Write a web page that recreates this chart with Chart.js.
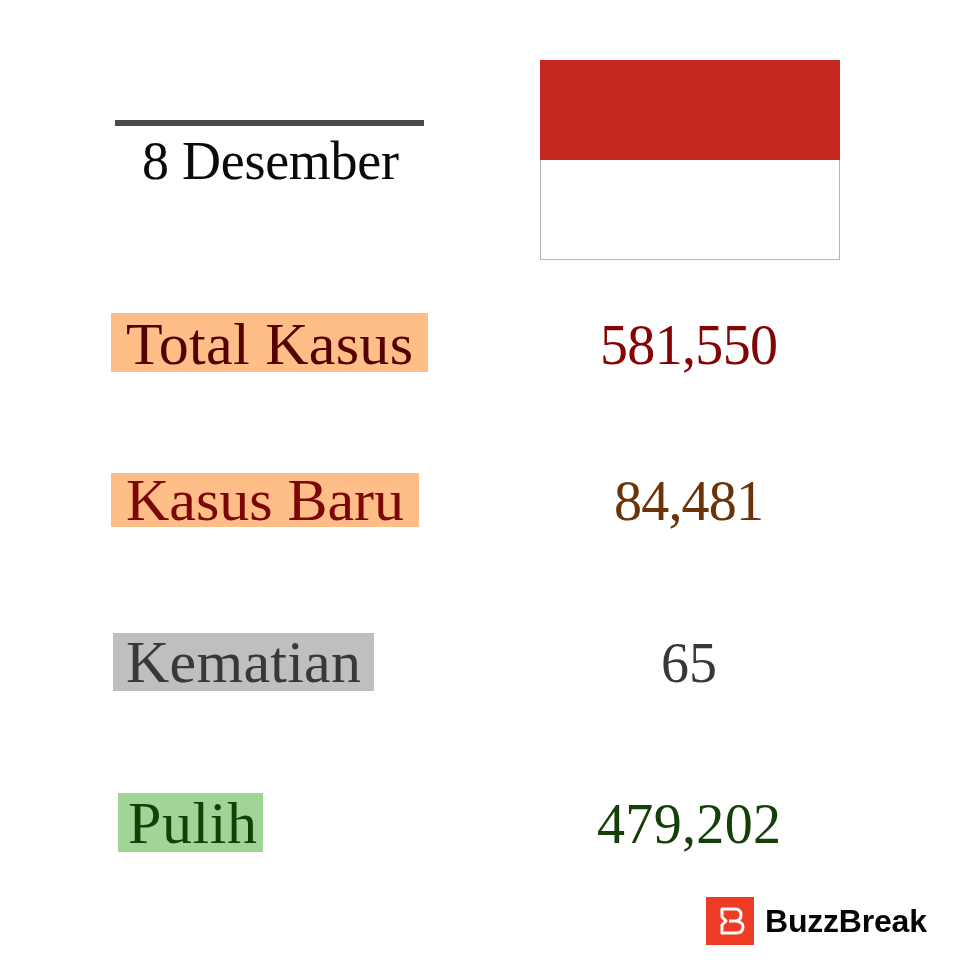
<!DOCTYPE html>
<html>
<head>
<meta charset="utf-8">
<style>html,body{margin:0;padding:0;background:#fff}canvas{display:block}</style>
<script src="https://cdn.jsdelivr.net/npm/chart.js@4"></script>
</head>
<body>
<canvas id="c" width="960" height="960"></canvas>
<script>
const dateLabel = '8 Desember';
const brandName = 'BuzzBreak';
const categories = ['Total Kasus', 'Kasus Baru', 'Kematian', 'Pulih'];
const caseValues = [581550, 84481, 65, 479202];

// styling only
const labelColors = ['#560000', '#7a0606', '#383838', '#143f06'];
const valueColors = ['#860303', '#6a330a', '#383838', '#143f06'];
const highlightColors = ['#ffbd87', '#ffbd87', '#bfbfbf', '#a1d595'];
const labelLeft = [126, 126, 126, 128];
const labelWidth = [287, 278, 235, 129];
const valueWidth = [178, 150, 56, 184];
const highlightBox = [[111,428,313,372],[111,419,473,527],[113,374,633,691],[118,263,793,852]];
const baselineNudge = [21, 17, 19, 20];
const SERIF = '"Liberation Serif", serif';

function fitText(ctx, text, x, y, width, font, color, align) {
  ctx.save();
  ctx.font = font;
  ctx.fillStyle = color;
  ctx.textAlign = 'left';
  ctx.textBaseline = 'alphabetic';
  ctx.letterSpacing = '0px';
  const w = ctx.measureText(text).width;
  const n = text.length;
  const sp = (width - w) / Math.max(1, n - 1);
  ctx.letterSpacing = sp + 'px';
  const left = align === 'center' ? x - width / 2 : x;
  ctx.fillText(text, left, y);
  ctx.restore();
}

const infographic = {
  id: 'infographic',
  afterDatasetsDraw(chart) {
    const ctx = chart.ctx;
    const y = chart.scales.y;
    ctx.save();
    // header rule + date
    ctx.fillStyle = '#4a4a4a';
    ctx.fillRect(115, 120, 309, 6);
    fitText(ctx, dateLabel, 142, 179, 257, '54px ' + SERIF, '#0a0a0a', 'left');
    // flag
    ctx.fillStyle = '#ffffff';
    ctx.fillRect(540, 60, 300, 200);
    ctx.strokeStyle = '#b5b5b5';
    ctx.lineWidth = 1;
    ctx.strokeRect(540.5, 60.5, 299, 199);
    ctx.fillStyle = '#c4281e';
    ctx.fillRect(540, 60, 300, 100);
    // rows
    categories.forEach((name, i) => {
      const py = y.getPixelForValue(i);
      const b = highlightBox[i];
      ctx.fillStyle = highlightColors[i];
      ctx.fillRect(b[0], b[2], b[1] - b[0], b[3] - b[2]);
      fitText(ctx, name, labelLeft[i], py + baselineNudge[i], labelWidth[i], '60px ' + SERIF, labelColors[i], 'left');
      fitText(ctx, caseValues[i].toLocaleString('en-US'), 689, py + baselineNudge[i], valueWidth[i], '56px ' + SERIF, valueColors[i], 'center');
    });
    // logo
    ctx.fillStyle = '#ee3b24';
    ctx.fillRect(706, 897, 48, 48);
    ctx.strokeStyle = '#ffffff';
    ctx.lineWidth = 3;
    ctx.lineJoin = 'round';
    ctx.beginPath();
    ctx.moveTo(722, 909);
    ctx.lineTo(735, 909);
    ctx.quadraticCurveTo(741, 909, 741, 915);
    ctx.quadraticCurveTo(741, 920, 736, 921);
    ctx.quadraticCurveTo(743, 922, 743, 927);
    ctx.quadraticCurveTo(743, 933, 736, 933);
    ctx.lineTo(722, 933);
    ctx.lineTo(722, 925);
    ctx.lineTo(726, 921);
    ctx.lineTo(722, 917);
    ctx.closePath();
    ctx.stroke();
    ctx.beginPath();
    ctx.moveTo(729, 921);
    ctx.lineTo(735, 921);
    ctx.stroke();
    fitText(ctx, brandName, 765, 932, 162, 'bold 32px "Liberation Sans", sans-serif', '#050505', 'left');
    ctx.restore();
  }
};

new Chart(document.getElementById('c'), {
  type: 'bar',
  data: {
    labels: categories,
    datasets: [{ label: 'Kasus', data: caseValues, backgroundColor: 'rgba(0,0,0,0)', borderWidth: 0 }]
  },
  options: {
    indexAxis: 'y',
    responsive: false,
    animation: false,
    layout: { padding: { top: 263, bottom: 57, left: 0, right: 0 } },
    plugins: { legend: { display: false }, title: { display: false }, tooltip: { enabled: false } },
    scales: {
      x: { display: false, beginAtZero: true },
      y: { display: false }
    }
  },
  plugins: [infographic]
});
</script>
</body>
</html>
